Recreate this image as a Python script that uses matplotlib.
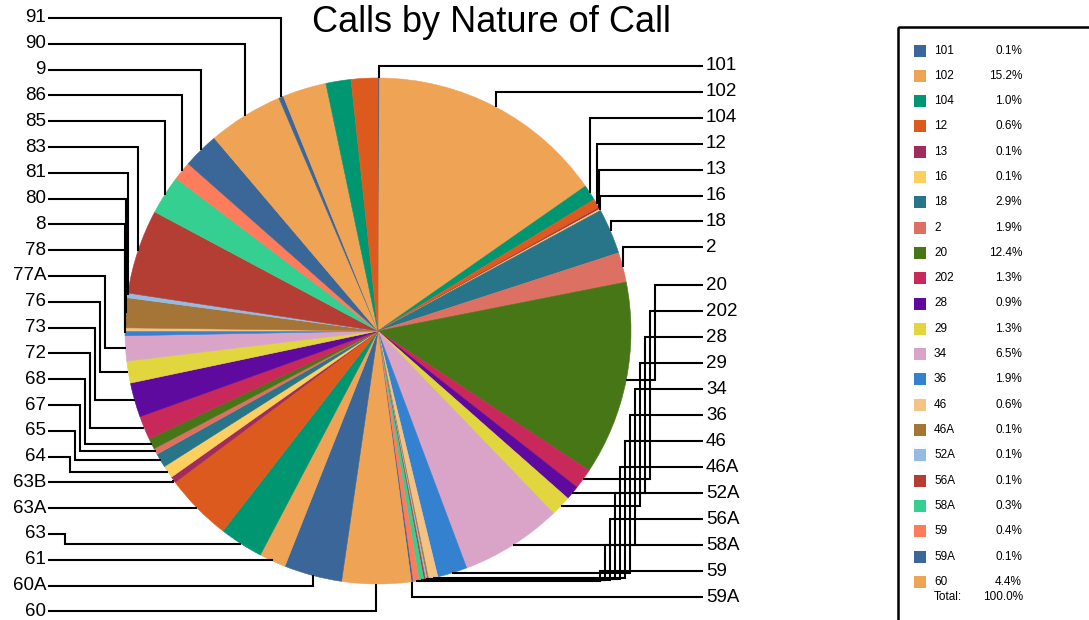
import matplotlib
matplotlib.use("Agg")
import matplotlib.pyplot as plt
from matplotlib.patches import Rectangle
import math

# ---------------- data ----------------
categories = ["101", "102", "104", "12", "13", "16", "18", "2", "20", "202",
              "28", "29", "34", "36", "46", "46A", "52A", "56A", "58A", "59",
              "59A", "60", "60A", "61", "63", "63A", "63B", "64", "65", "67",
              "68", "72", "73", "76", "77A", "78", "8", "80", "81", "83",
              "85", "86", "9", "90", "91", "(unlabeled a)", "(unlabeled b)", "(unlabeled c)"]
values = [0.1, 15.2, 1.0, 0.6, 0.1, 0.1, 2.9, 1.9, 12.4, 1.3,
          0.9, 1.3, 6.5, 1.9, 0.6, 0.1, 0.1, 0.1, 0.3, 0.4,
          0.1, 4.4, 3.7, 1.7, 2.8, 4.3, 0.4, 0.8, 0.9, 0.4,
          0.7, 1.5, 2.2, 1.4, 1.6, 0.3, 0.2, 1.9, 0.3, 5.4,
          2.5, 1.2, 2.3, 4.8, 0.3, 2.8, 1.6, 1.7]
palette = ["#3B6699", "#EFA354", "#009672", "#DD5A1E", "#A22B5E", "#FDCF60",
           "#287489", "#DC7163", "#477616", "#C8295A", "#5E0A9E", "#E2D63E",
           "#D9A4C8", "#3482CF", "#F3C386", "#A47536", "#95BBE3", "#B43E34",
           "#35CF91", "#FD7C5B", "#3A6698", "#EFA354"]
title = "Calls by Nature of Call"
right_labels = categories[0:21]            # labelled on the right, top to bottom
left_labels = categories[44:20:-1]         # labelled on the left, top to bottom
legend_items = categories[0:22]            # entries visible in the legend box

plt.rcParams['font.family'] = ['Liberation Sans', 'DejaVu Sans']

W, H = 1089, 620
fig = plt.figure(figsize=(W / 100, H / 100), dpi=100)
ax = fig.add_axes([0, 0, 1, 1])

cx, cy, r = 378, 331, 253
colors = [palette[i % len(palette)] for i in range(len(values))]
wedges, _ = ax.pie(values, colors=colors, startangle=-90, counterclock=True,
                   center=(cx, cy), radius=r,
                   wedgeprops=dict(linewidth=0.4))
for w, c in zip(wedges, colors):
    w.set_edgecolor(c)

ax.set_xlim(0, W)
ax.set_ylim(H, 0)
ax.set_aspect('equal')
ax.axis('off')

anchor = {}
for name, w in zip(categories, wedges):
    t = math.radians((w.theta1 + w.theta2) / 2)
    anchor[name] = (cx + r * math.cos(t), cy + r * math.sin(t))

fs = 13.5
lw = 1.5


def draw_leader(name, ly, side, k):
    axp, ayp = anchor[name]
    sx = 703 if side == 'right' else 48
    lower = ayp > cy + 5
    if ly < ayp - 3 and lower:
        if side == 'right':
            ex = cx + r + 24 - 5 * k
        else:
            ex = cx - r - 20 - 5 * k
        xs = [sx, ex, ex, axp]
        ys = [ly, ly, ayp, ayp]
        used = True
    else:
        xs = [sx, axp, axp]
        ys = [ly, ly, ayp]
        used = False
    ax.plot(xs, ys, color='black', lw=lw, solid_joinstyle='miter',
            solid_capstyle='butt', zorder=5)
    return used


# right side labels
k = 0
for p, name in enumerate(right_labels):
    if p < 8:
        ly = 66 + 25.9 * p
    else:
        ly = 597 - 26 * (len(right_labels) - 1 - p)
    if draw_leader(name, ly, 'right', k):
        k += 1
    ax.text(706, ly, name, ha='left', va='center', fontsize=fs, zorder=6)

# left side labels
k = 0
for j, name in enumerate(left_labels):
    ly = 18 + 25.8 * j
    if draw_leader(name, ly, 'left', k):
        k += 1
    ax.text(46, ly, name, ha='right', va='center', fontsize=fs, zorder=6)

# title
ax.text(491, 22, title, ha='center', va='center', fontsize=26)

# legend box (clipped by the figure edge, as in the reference)
ax.add_patch(Rectangle((898, 27), 300, 700, fill=False, edgecolor='black',
                       lw=1.8, zorder=4, clip_on=False))
total = sum(values)
lfs = 8.5
for i, name in enumerate(legend_items):
    y = 50.5 + 25.3 * i
    v = values[categories.index(name)]
    ax.add_patch(Rectangle((914, y - 6), 12, 12, facecolor=palette[i % len(palette)],
                           edgecolor='none', zorder=5))
    ax.text(934, y, name, ha='left', va='center', fontsize=lfs)
    ax.text(1022, y, f"{v / total * 100:.1f}%", ha='right', va='center', fontsize=lfs)
ty = 50.5 + 25.3 * (len(legend_items) - 1) + 15
ax.text(934, ty, "Total:", ha='left', va='center', fontsize=lfs)
ax.text(1023, ty, f"{total / total * 100:.1f}%", ha='right', va='center', fontsize=lfs)

fig.savefig("out.png", dpi=100)
